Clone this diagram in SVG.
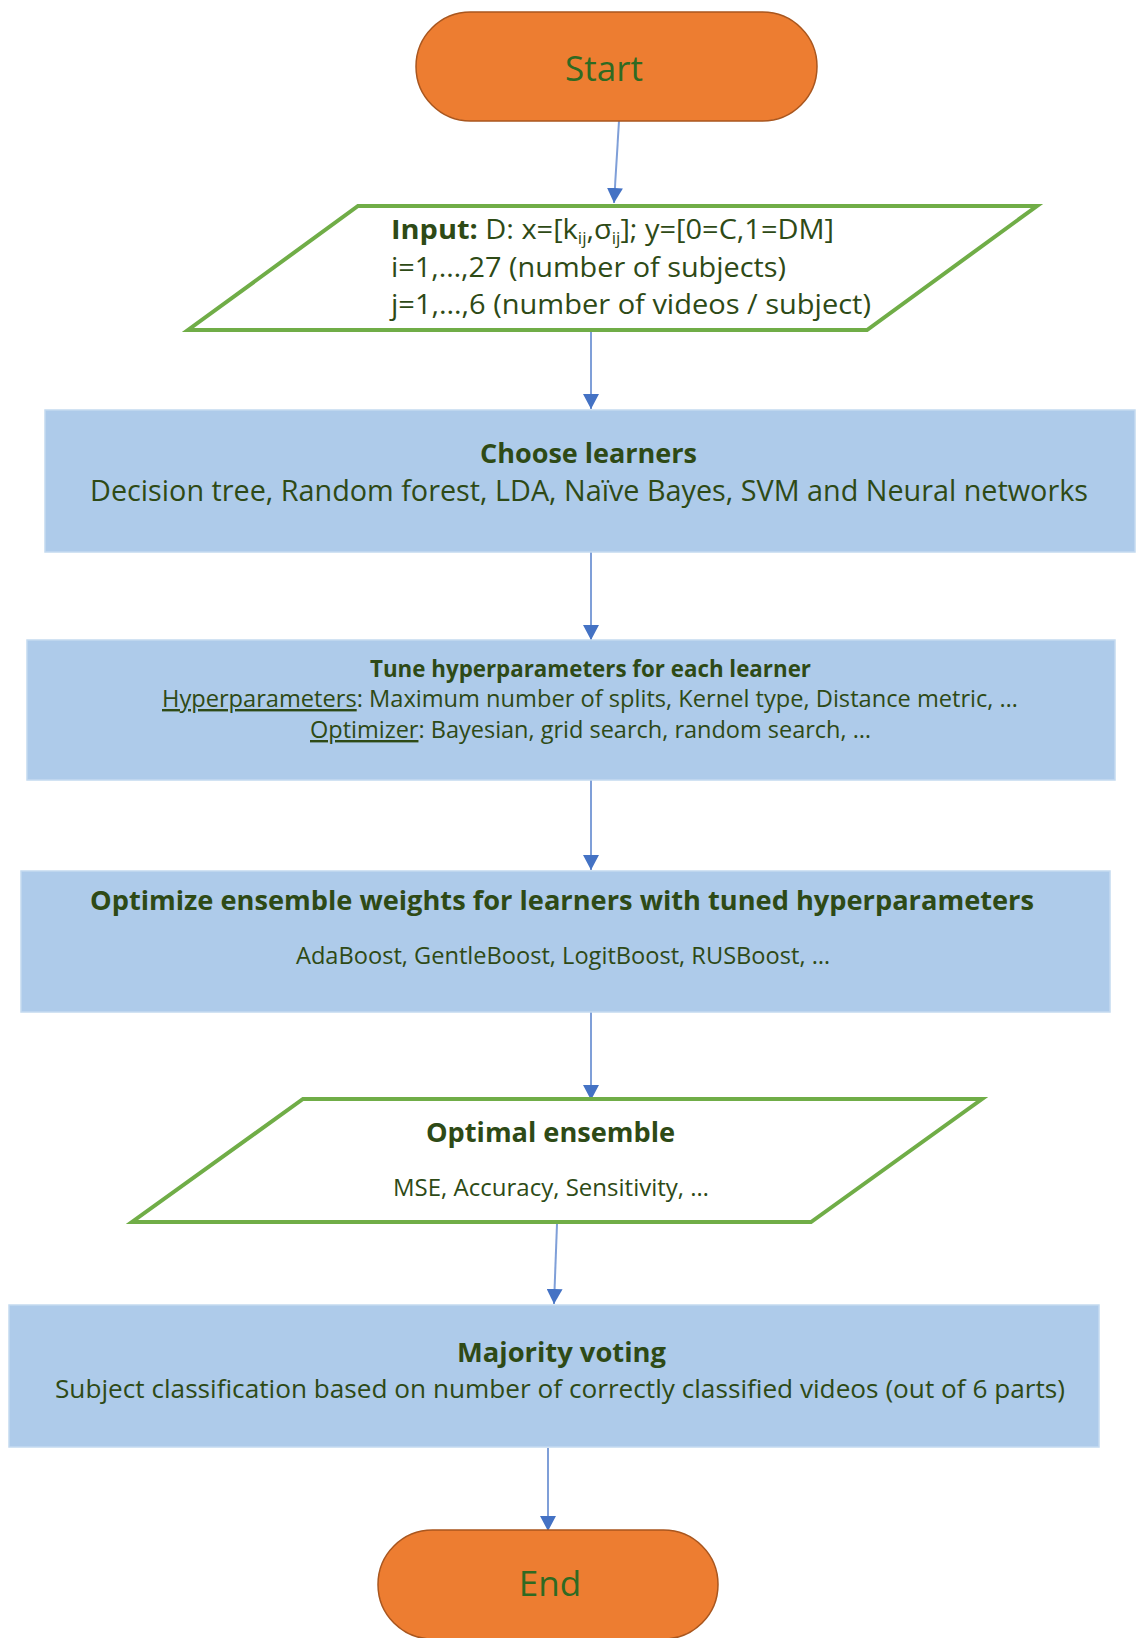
<svg xmlns="http://www.w3.org/2000/svg" width="1143" height="1638" viewBox="0 0 1143 1638">
<style>
.term{fill:#ED7D31;stroke:#A9561E;stroke-width:1.5}
.termtxt{font-family:"Open Sans","Liberation Sans",sans-serif;font-size:35px;fill:#2F6A22;text-anchor:middle}
.io{fill:#FFFFFF;stroke:#70AD47;stroke-width:4;stroke-linejoin:miter}
.proc{fill:#AECBEA;stroke:#C4DAF0;stroke-width:1.5}
.t{font-family:"Open Sans","Liberation Sans",sans-serif;fill:#2E4A16}
.b{font-weight:bold}
.edge{stroke:#7F9FD8;stroke-width:2;fill:none}
</style>
<defs>
<marker id="arr" markerUnits="userSpaceOnUse" markerWidth="18" markerHeight="16" refX="15" refY="8" orient="auto">
<path d="M0,0 L15,8 L0,16 Z" fill="#4472C4"/>
</marker>
</defs>

<g id="connectors">
<line class="edge" x1="619" y1="121" x2="614" y2="203" marker-end="url(#arr)"/>
<line class="edge" x1="591" y1="332" x2="591" y2="409" marker-end="url(#arr)"/>
<line class="edge" x1="591" y1="552" x2="591" y2="640" marker-end="url(#arr)"/>
<line class="edge" x1="591" y1="780" x2="591" y2="870" marker-end="url(#arr)"/>
<line class="edge" x1="591" y1="1012" x2="591" y2="1100" marker-end="url(#arr)"/>
<line class="edge" x1="557" y1="1224" x2="554" y2="1304" marker-end="url(#arr)"/>
<line class="edge" x1="548" y1="1448" x2="548" y2="1531" marker-end="url(#arr)"/>
</g>

<g id="start">
<rect class="term" x="416" y="12" width="401" height="109" rx="54.5"/>
<text class="termtxt" x="604" y="81">Start</text>
</g>

<g id="input">
<polygon class="io" points="358,206 1037,206 867,330 188,330"/>
<text class="t" x="391" y="239" font-size="27" textLength="443" lengthAdjust="spacingAndGlyphs"><tspan class="b">Input:</tspan> D: x=[k<tspan font-size="16" dy="5">ij</tspan><tspan dy="-5">,σ</tspan><tspan font-size="16" dy="5">ij</tspan><tspan dy="-5">]; y=[0=C,1=DM]</tspan></text>
<text class="t" x="391" y="277" font-size="27" textLength="395" lengthAdjust="spacingAndGlyphs">i=1,…,27 (number of subjects)</text>
<text class="t" x="391" y="314" font-size="27" textLength="480" lengthAdjust="spacingAndGlyphs">j=1,…,6 (number of videos / subject)</text>
</g>

<g id="choose">
<rect class="proc" x="45" y="410" width="1090" height="142"/>
<text class="t b" x="480" y="463" font-size="26" textLength="217" lengthAdjust="spacingAndGlyphs">Choose learners</text>
<text class="t" x="90" y="501" font-size="29" textLength="998" lengthAdjust="spacingAndGlyphs">Decision tree, Random forest, LDA, Naïve Bayes, SVM and Neural networks</text>
</g>

<g id="tune">
<rect class="proc" x="27" y="640" width="1088" height="140"/>
<text class="t b" x="370" y="677" font-size="23" textLength="441" lengthAdjust="spacingAndGlyphs">Tune hyperparameters for each learner</text>
<text class="t" x="162" y="707" font-size="24" textLength="856" lengthAdjust="spacingAndGlyphs"><tspan text-decoration="underline">Hyperparameters</tspan>: Maximum number of splits, Kernel type, Distance metric, …</text>
<text class="t" x="310" y="738" font-size="24" textLength="561" lengthAdjust="spacingAndGlyphs"><tspan text-decoration="underline">Optimizer</tspan>: Bayesian, grid search, random search, …</text>
</g>

<g id="optimize">
<rect class="proc" x="21" y="871" width="1089" height="141"/>
<text class="t b" x="90" y="910" font-size="27" textLength="944" lengthAdjust="spacingAndGlyphs">Optimize ensemble weights for learners with tuned hyperparameters</text>
<text class="t" x="296" y="964" font-size="23" textLength="534" lengthAdjust="spacingAndGlyphs">AdaBoost, GentleBoost, LogitBoost, RUSBoost, …</text>
</g>

<g id="optimal">
<polygon class="io" points="303,1099 982,1099 811,1222 132,1222"/>
<text class="t b" x="426" y="1142" font-size="26" textLength="249" lengthAdjust="spacingAndGlyphs">Optimal ensemble</text>
<text class="t" x="393" y="1196" font-size="23" textLength="316" lengthAdjust="spacingAndGlyphs">MSE, Accuracy, Sensitivity, …</text>
</g>

<g id="majority">
<rect class="proc" x="9" y="1305" width="1090" height="142"/>
<text class="t b" x="457" y="1362" font-size="26" textLength="209" lengthAdjust="spacingAndGlyphs">Majority voting</text>
<text class="t" x="55" y="1398" font-size="26" textLength="1010" lengthAdjust="spacingAndGlyphs">Subject classification based on number of correctly classified videos (out of 6 parts)</text>
</g>

<g id="end">
<rect class="term" x="378" y="1530" width="340" height="109" rx="54.5"/>
<text class="termtxt" x="550" y="1596">End</text>
</g>
</svg>
